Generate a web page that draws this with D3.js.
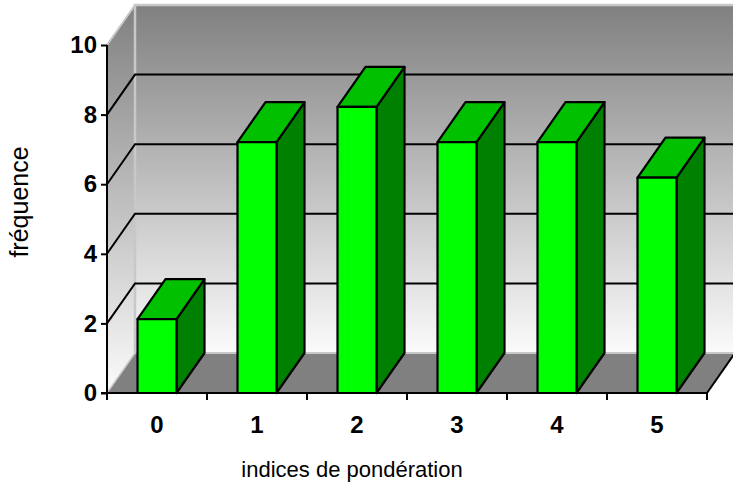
<!DOCTYPE html>
<html>
<head>
<meta charset="utf-8">
<script src="https://cdn.jsdelivr.net/npm/d3@7"></script>
<style>
  html, body { margin: 0; padding: 0; background: #ffffff; }
  svg { display: block; font-family: Arial, "Liberation Sans", sans-serif; }
</style>
</head>
<body>
<svg id="chart" width="733" height="488"></svg>
<script>
// Data
const categories = ["0", "1", "2", "3", "4", "5"];
const frequencies = [2, 7, 8, 7, 7, 6];
const yTicks = [0, 2, 4, 6, 8, 10];
const yTitle = "fréquence";
const xTitle = "indices de pondération";

(function () {
const svg = d3.select("#chart");

// Plot frame (front plane) and oblique depth offset
const plotLeft = 107, plotRight = 707, plotBottom = 393, plotTop = 45;
const depthX = 28, depthY = 40;

const x = d3.scalePoint().domain(categories).range([plotLeft, plotRight]).padding(0.5);
const step = x.step();
const barW = step * 0.39;
const y = d3.scaleLinear().domain([0, 10]).range([plotBottom, plotTop]);
// column tops sit slightly behind the front plane
const yBar = d3.scaleLinear().domain([0, 10]).range([plotBottom - 3, plotTop - 9]);

const defs = svg.append("defs");
const wallGrad = defs.append("linearGradient")
  .attr("id", "wallGrad").attr("x1", 0).attr("y1", 0).attr("x2", 0).attr("y2", 1);
wallGrad.append("stop").attr("offset", "0%").attr("stop-color", "#808080");
wallGrad.append("stop").attr("offset", "100%").attr("stop-color", "#fbfbfb");

const sideGrad = defs.append("linearGradient")
  .attr("id", "sideGrad").attr("gradientUnits", "userSpaceOnUse")
  .attr("x1", 0).attr("y1", y(10) - depthY).attr("x2", 0).attr("y2", y(0));
sideGrad.append("stop").attr("offset", "0%").attr("stop-color", "#808080");
sideGrad.append("stop").attr("offset", "100%").attr("stop-color", "#fbfbfb");

const line = d3.line();

// Back wall
svg.append("rect")
  .attr("x", plotLeft + depthX).attr("y", y(10) - depthY)
  .attr("width", plotRight - plotLeft + 10)
  .attr("height", y(0) - y(10))
  .attr("fill", "url(#wallGrad)");

// Side wall
svg.append("path")
  .attr("d", line([[plotLeft, y(0)], [plotLeft, y(10)], [plotLeft + depthX, y(10) - depthY], [plotLeft + depthX, y(0) - depthY]]) + "Z")
  .attr("fill", "url(#sideGrad)");

// Floor
svg.append("path")
  .attr("d", line([[plotLeft, y(0)], [plotRight, y(0)], [plotRight + depthX, y(0) - depthY], [plotLeft + depthX, y(0) - depthY]]) + "Z")
  .attr("fill", "#808080");

// Light edges of the walls and floor
const edgeColor = "#c8c8c8";
svg.append("path")
  .attr("d", line([[plotLeft + depthX, y(0) - depthY], [plotLeft + depthX, y(10) - depthY], [733, y(10) - depthY]]))
  .attr("fill", "none").attr("stroke", edgeColor).attr("stroke-width", 2.5);
svg.append("path")
  .attr("d", line([[plotLeft, y(10)], [plotLeft + depthX, y(10) - depthY]]))
  .attr("fill", "none").attr("stroke", edgeColor).attr("stroke-width", 2);
svg.append("path")
  .attr("d", line([[plotLeft + depthX, y(0) - depthY], [plotRight + depthX, y(0) - depthY]]))
  .attr("fill", "none").attr("stroke", edgeColor).attr("stroke-width", 2);
svg.append("path")
  .attr("d", line([[plotLeft, y(0)], [plotLeft + depthX, y(0) - depthY]]))
  .attr("fill", "none").attr("stroke", edgeColor).attr("stroke-width", 1.5);

// Gridlines on the side and back walls
const grid = svg.append("g").attr("stroke", "#000").attr("stroke-width", 2).attr("fill", "none");
yTicks.filter(v => v > 0 && v < 10).forEach(v => {
  grid.append("path").attr("d", line([[plotLeft, y(v)], [plotLeft + depthX, y(v) - depthY], [735, y(v) - depthY]]));
});

// Right edge of the floor
svg.append("path")
  .attr("d", line([[plotRight, y(0)], [plotRight + depthX, y(0) - depthY]]))
  .attr("stroke", "#000").attr("stroke-width", 2).attr("fill", "none");

// Columns
const bars = svg.append("g").attr("stroke", "#000").attr("stroke-width", 2.2).attr("stroke-linejoin", "round");
categories.forEach((c, i) => {
  const x0 = x(c) - barW / 2, x1 = x(c) + barW / 2;
  const yb = y(0), yt = yBar(frequencies[i]);
  const g = bars.append("g");
  // side face
  g.append("path").attr("fill", "#008000")
    .attr("d", line([[x1, yb], [x1, yt], [x1 + depthX, yt - depthY], [x1 + depthX, yb - depthY]]) + "Z");
  // top face
  g.append("path").attr("fill", "#00c000")
    .attr("d", line([[x0, yt], [x1, yt], [x1 + depthX, yt - depthY], [x0 + depthX, yt - depthY]]) + "Z");
  // front face
  g.append("rect").attr("fill", "#00ff00")
    .attr("x", x0).attr("y", yt).attr("width", barW).attr("height", yb - yt);
});

// Value axis
const yAxis = svg.append("g")
  .attr("transform", `translate(${plotLeft},0)`)
  .call(d3.axisLeft(y).tickValues(yTicks).tickSize(6).tickPadding(4).tickFormat(d3.format("d")));
yAxis.select(".domain").attr("stroke", "#000").attr("stroke-width", 2)
  .attr("d", `M0,${y(0)}V${y(10)}`);
yAxis.selectAll(".tick line").attr("stroke", "#000").attr("stroke-width", 2);
yAxis.selectAll(".tick text")
  .attr("font-family", "Arial, 'Liberation Sans', sans-serif")
  .attr("font-size", 24).attr("font-weight", "bold").attr("fill", "#000");

// Category axis
const xEdges = d3.range(categories.length + 1).map(i => plotLeft + i * step);
const xAxis = svg.append("g").attr("stroke", "#000").attr("stroke-width", 2).attr("fill", "none");
xAxis.append("path").attr("d", line([[plotLeft - 6, y(0)], [plotRight, y(0)]]));
xEdges.forEach(e => xAxis.append("path").attr("d", line([[e, y(0)], [e, y(0) + 7]])));

svg.append("g").selectAll("text").data(categories).join("text")
  .attr("x", d => x(d)).attr("y", 433)
  .attr("text-anchor", "middle")
  .attr("font-size", 24).attr("font-weight", "bold").attr("fill", "#000")
  .text(d => d);

// Axis titles
svg.append("text")
  .attr("x", 352).attr("y", 477)
  .attr("text-anchor", "middle").attr("font-size", 22).attr("fill", "#000")
  .text(xTitle);
svg.append("text")
  .attr("transform", "translate(28,202) rotate(-90)")
  .attr("text-anchor", "middle").attr("font-size", 25).attr("fill", "#000")
  .text(yTitle);
})();
</script>
</body>
</html>
